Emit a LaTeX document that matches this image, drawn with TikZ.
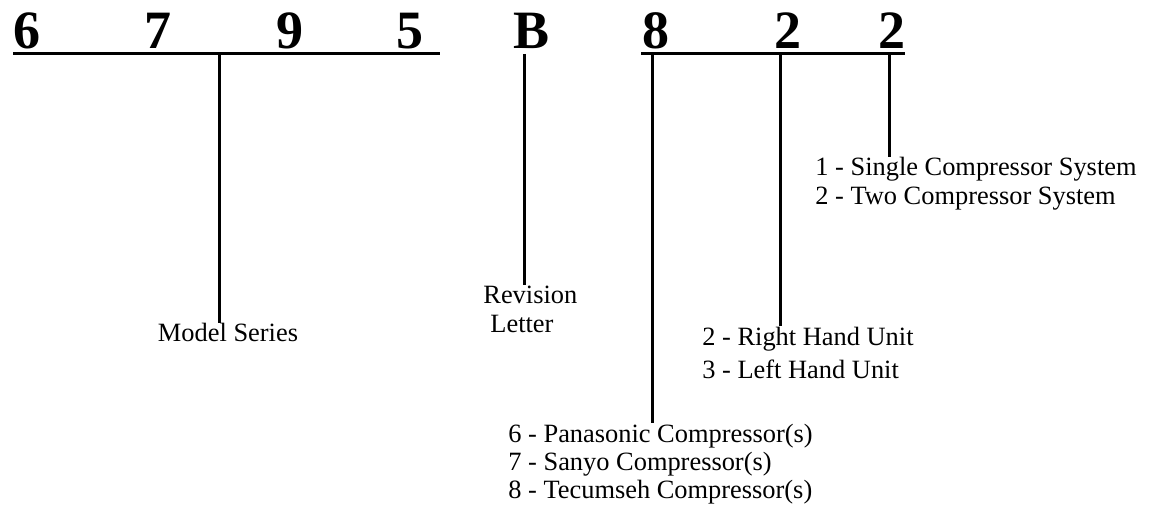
\documentclass[tikz,border=0pt]{standalone}
\usepackage{fontspec}
\setmainfont{Liberation Serif}
\usetikzlibrary{positioning}
\tikzstyle{digit}=[font=\fontsize{27}{30}\selectfont\bfseries, inner sep=0pt, anchor=base]
\tikzstyle{desc}=[font=\fontsize{13.2}{14.5}\selectfont, inner sep=0pt, align=left, anchor=base west]
\tikzstyle{bar}=[draw, line width=1.5pt]

\begin{document}
\begin{tikzpicture}[x=0.5pt, y=-0.5pt]
  \useasboundingbox (0,0) rectangle (1158,508);

  % characters of the model number
  \foreach \x/\name/\label in {27/ser1/6, 158/ser2/7, 290/ser3/9, 410/ser4/5, 532/rev/B, 656/comp/8, 788/hand/2, 892/sys/2}
          \node[digit] (\name) at (\x, 49) {\label};

  % underlines
  \coordinate (ulA) at (13, 54);
  \coordinate (ulB) at (440, 54);
  \coordinate (ulC) at (641, 54);
  \coordinate (ulD) at (905, 54);
  \path[bar] (ulA) -- (ulB);
  \path[bar] (ulC) -- (ulD);

  % descriptions (base = last line)
  \node[desc, anchor=base] (modeltxt) at (228, 342) {Model Series};
  \node[desc] (revtxt) at (483, 332) {Revision\\\hspace*{3.5pt}Letter};
  \node[desc] (systxt) at (815, 205) {1 - Single Compressor System\\2 - Two Compressor System};
  \node[desc] (handtxt) at (702, 378) {2 - Right Hand Unit\\[2pt]3 - Left Hand Unit};
  \node[desc] (comptxt) at (508, 498) {6 - Panasonic Compressor(s)\\[-0.5pt]7 - Sanyo Compressor(s)\\[-0.5pt]8 - Tecumseh Compressor(s)};

  % stems down to the descriptions
  \foreach \x/\name in {219/model, 524/rev, 652/comp, 780/hand, 889/sys}
          \coordinate (tap-\name) at (\x, 54);
  \foreach \name in {model, rev, comp, hand, sys}
         \path[bar] (tap-\name) -- (tap-\name |- \name txt.north);
\end{tikzpicture}
\end{document}
